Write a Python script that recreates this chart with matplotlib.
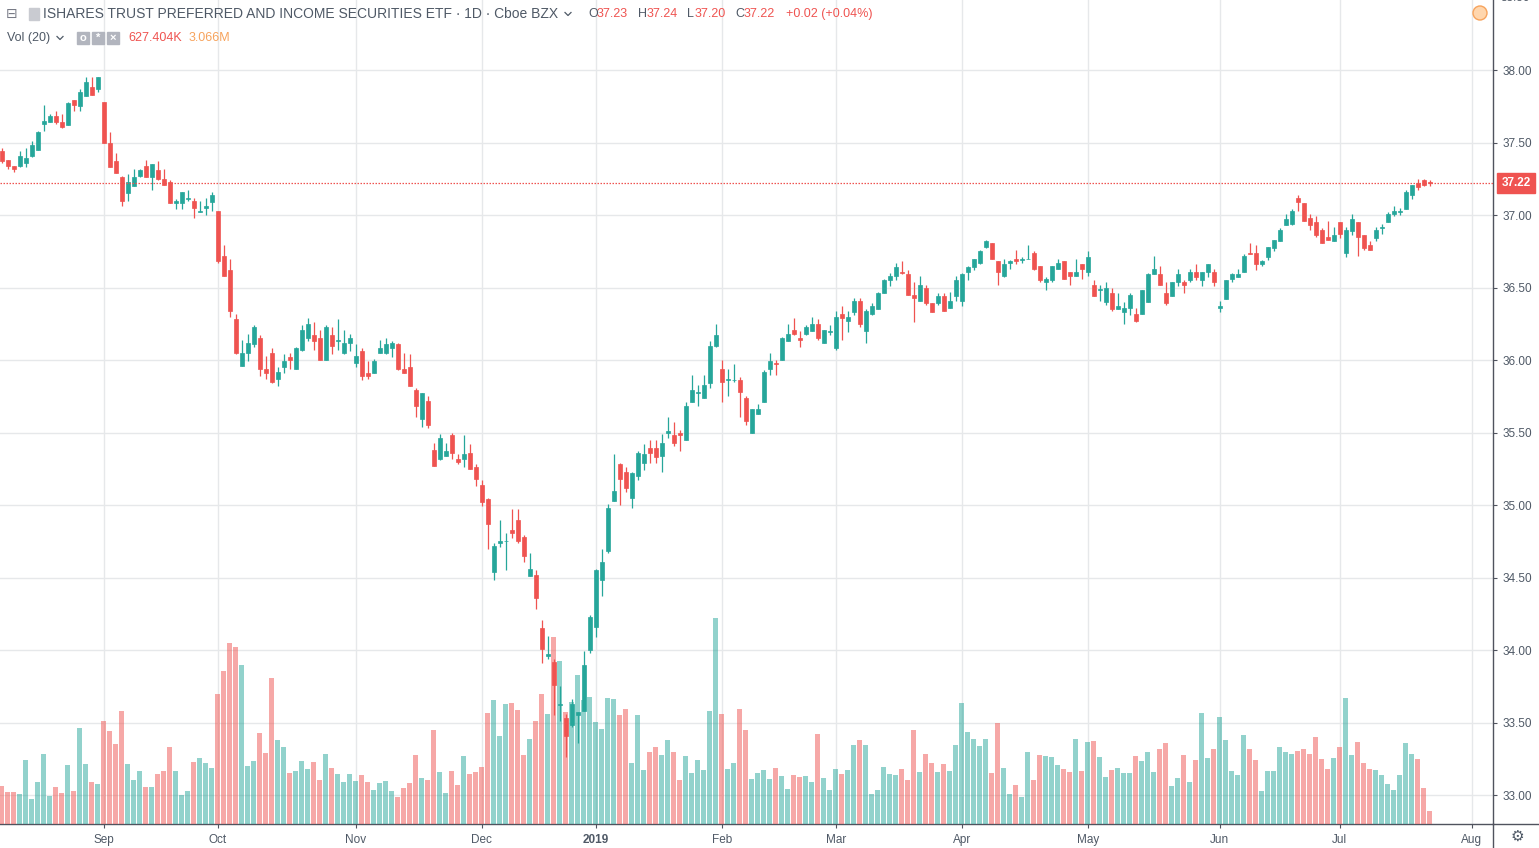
import numpy as np
import matplotlib
matplotlib.use('Agg')
import matplotlib.pyplot as plt
from matplotlib.patches import Rectangle, Ellipse
from matplotlib.lines import Line2D

plt.rcParams['font.family'] = ['Liberation Sans', 'DejaVu Sans']

W, H = 1539, 848

# daily bars, 2018-08-09 .. 2019-07-23 (index 0..238)
opens = [
    37.44, 37.38, 37.34, 37.34, 37.36, 37.41, 37.45, 37.63, 37.64, 37.68,
    37.64, 37.62, 37.79, 37.75, 37.82, 37.88, 37.87, 37.78, 37.50, 37.37,
    37.26, 37.15, 37.20, 37.27, 37.34, 37.26, 37.31, 37.25, 37.23, 37.08,
    37.08, 37.11, 37.10, 37.02, 37.05, 37.09, 37.03, 36.72, 36.62, 36.28,
    35.96, 36.05, 36.11, 36.15, 35.94, 36.05, 35.87, 35.95, 36.02, 35.94,
    36.07, 36.15, 36.17, 36.15, 36.00, 36.17, 36.13, 36.05, 36.12, 35.98,
    36.06, 35.91, 35.91, 36.05, 36.05, 36.08, 36.11, 35.94, 35.95, 35.79,
    35.59, 35.72, 35.38, 35.32, 35.34, 35.48, 35.32, 35.32, 35.36, 35.26,
    35.14, 35.04, 34.54, 34.74, 34.75, 34.83, 34.90, 34.78, 34.51, 34.52,
    34.15, 33.96, 33.92, 33.62, 33.53, 33.48, 33.55, 33.58, 34.00, 34.16,
    34.48, 34.68, 35.03, 35.28, 35.23, 35.05, 35.20, 35.29, 35.39, 35.39,
    35.34, 35.50, 35.48, 35.50, 35.45, 35.71, 35.77, 35.74, 35.84, 36.10,
    35.94, 35.86, 35.86, 35.86, 35.74, 35.50, 35.63, 35.71, 35.94, 35.98,
    36.00, 36.13, 36.21, 36.15, 36.18, 36.20, 36.25, 36.12, 36.19, 36.08,
    36.32, 36.27, 36.33, 36.41, 36.20, 36.32, 36.35, 36.46, 36.55, 36.58,
    36.61, 36.59, 36.45, 36.41, 36.50, 36.39, 36.39, 36.44, 36.36, 36.44,
    36.41, 36.61, 36.64, 36.67, 36.78, 36.81, 36.68, 36.58, 36.67, 36.70,
    36.69, 36.70, 36.74, 36.65, 36.54, 36.55, 36.63, 36.68, 36.61, 36.58,
    36.66, 36.61, 36.52, 36.48, 36.40, 36.46, 36.35, 36.33, 36.36, 36.32,
    36.32, 36.40, 36.59, 36.59, 36.46, 36.44, 36.54, 36.54, 36.55, 36.61,
    36.55, 36.61, 36.61, 36.36, 36.42, 36.56, 36.57, 36.61, 36.74, 36.74,
    36.66, 36.71, 36.77, 36.82, 36.93, 36.94, 37.12, 37.08, 36.98, 36.95,
    36.90, 36.85, 36.82, 36.95, 36.74, 36.89, 36.95, 36.86, 36.79, 36.84,
    36.91, 36.95, 37.01, 37.02, 37.04, 37.14, 37.22, 37.24, 37.23]

highs = [
    37.46, 37.38, 37.34, 37.44, 37.46, 37.51, 37.58, 37.76, 37.70, 37.72,
    37.70, 37.78, 37.79, 37.87, 37.95, 37.95, 37.95, 37.78, 37.57, 37.43,
    37.27, 37.28, 37.32, 37.32, 37.38, 37.35, 37.37, 37.32, 37.24, 37.11,
    37.16, 37.17, 37.12, 37.10, 37.12, 37.16, 37.03, 36.79, 36.70, 36.32,
    36.14, 36.18, 36.24, 36.17, 36.03, 36.08, 35.95, 36.04, 36.05, 36.09,
    36.24, 36.29, 36.26, 36.21, 36.24, 36.23, 36.28, 36.21, 36.18, 36.11,
    36.08, 35.99, 36.01, 36.14, 36.15, 36.13, 36.12, 36.05, 36.04, 35.81,
    35.77, 35.75, 35.43, 35.49, 35.43, 35.50, 35.35, 35.48, 35.42, 35.28,
    35.17, 35.05, 34.74, 34.90, 34.81, 34.97, 34.97, 34.79, 34.67, 34.55,
    34.21, 34.10, 33.94, 33.75, 33.56, 33.66, 33.57, 33.99, 34.24, 34.56,
    34.70, 35.01, 35.35, 35.29, 35.26, 35.23, 35.37, 35.42, 35.45, 35.45,
    35.49, 35.61, 35.57, 35.52, 35.71, 35.90, 35.83, 35.90, 36.13, 36.25,
    36.00, 35.94, 35.97, 35.88, 35.75, 35.66, 35.70, 35.93, 36.05, 36.00,
    36.16, 36.25, 36.29, 36.20, 36.24, 36.30, 36.28, 36.21, 36.24, 36.34,
    36.37, 36.34, 36.43, 36.43, 36.35, 36.39, 36.47, 36.56, 36.60, 36.67,
    36.68, 36.62, 36.54, 36.58, 36.52, 36.39, 36.46, 36.46, 36.47, 36.58,
    36.60, 36.65, 36.70, 36.76, 36.83, 36.81, 36.68, 36.70, 36.69, 36.76,
    36.71, 36.79, 36.75, 36.65, 36.57, 36.65, 36.70, 36.68, 36.61, 36.70,
    36.66, 36.75, 36.55, 36.52, 36.54, 36.50, 36.46, 36.40, 36.46, 36.36,
    36.48, 36.60, 36.72, 36.65, 36.54, 36.54, 36.63, 36.55, 36.63, 36.66,
    36.61, 36.66, 36.63, 36.41, 36.55, 36.60, 36.63, 36.73, 36.81, 36.79,
    36.69, 36.78, 36.83, 36.91, 37.01, 37.04, 37.14, 37.08, 37.01, 36.99,
    36.91, 36.96, 36.92, 36.95, 36.92, 37.01, 36.95, 36.86, 36.82, 36.92,
    36.94, 37.02, 37.06, 37.05, 37.17, 37.21, 37.25, 37.25, 37.24]

lows = [
    37.36, 37.32, 37.30, 37.33, 37.33, 37.40, 37.45, 37.58, 37.64, 37.63,
    37.60, 37.62, 37.72, 37.72, 37.82, 37.83, 37.85, 37.50, 37.33, 37.29,
    37.06, 37.10, 37.20, 37.26, 37.26, 37.17, 37.24, 37.21, 37.08, 37.04,
    37.04, 37.10, 36.98, 37.02, 37.00, 37.03, 36.67, 36.58, 36.30, 36.04,
    35.96, 35.99, 36.09, 35.89, 35.87, 35.84, 35.82, 35.91, 35.94, 35.94,
    36.06, 36.13, 36.07, 36.00, 36.00, 36.04, 36.07, 36.04, 36.06, 35.95,
    35.86, 35.87, 35.91, 36.05, 36.04, 36.02, 35.93, 35.91, 35.82, 35.61,
    35.54, 35.53, 35.27, 35.31, 35.34, 35.32, 35.28, 35.26, 35.25, 35.13,
    34.99, 34.70, 34.48, 34.71, 34.55, 34.77, 34.74, 34.61, 34.51, 34.28,
    33.91, 33.94, 33.55, 33.51, 33.26, 33.47, 33.36, 33.58, 33.98, 34.09,
    34.37, 34.67, 35.03, 35.00, 35.09, 34.98, 35.17, 35.24, 35.29, 35.29,
    35.23, 35.46, 35.41, 35.37, 35.45, 35.71, 35.68, 35.74, 35.81, 36.09,
    35.71, 35.75, 35.85, 35.61, 35.55, 35.50, 35.63, 35.71, 35.90, 35.90,
    36.00, 36.13, 36.17, 36.09, 36.17, 36.20, 36.14, 36.12, 36.17, 36.07,
    36.14, 36.19, 36.31, 36.23, 36.12, 36.31, 36.35, 36.46, 36.51, 36.55,
    36.59, 36.45, 36.26, 36.41, 36.38, 36.33, 36.38, 36.34, 36.36, 36.41,
    36.37, 36.55, 36.62, 36.66, 36.77, 36.70, 36.52, 36.57, 36.63, 36.66,
    36.67, 36.70, 36.62, 36.54, 36.48, 36.54, 36.63, 36.56, 36.52, 36.58,
    36.56, 36.58, 36.44, 36.41, 36.38, 36.34, 36.35, 36.25, 36.31, 36.26,
    36.32, 36.40, 36.59, 36.52, 36.38, 36.44, 36.51, 36.46, 36.54, 36.55,
    36.51, 36.57, 36.51, 36.33, 36.42, 36.54, 36.57, 36.61, 36.73, 36.62,
    36.65, 36.69, 36.75, 36.82, 36.93, 36.93, 37.03, 36.96, 36.90, 36.85,
    36.81, 36.83, 36.82, 36.84, 36.71, 36.86, 36.72, 36.76, 36.76, 36.82,
    36.87, 36.95, 36.99, 37.00, 37.04, 37.11, 37.17, 37.20, 37.20]

closes = [
    37.37, 37.34, 37.32, 37.41, 37.39, 37.48, 37.57, 37.65, 37.68, 37.64,
    37.61, 37.77, 37.76, 37.85, 37.92, 37.83, 37.95, 37.50, 37.33, 37.29,
    37.10, 37.23, 37.26, 37.31, 37.26, 37.35, 37.25, 37.21, 37.08, 37.10,
    37.16, 37.12, 37.05, 37.03, 37.06, 37.14, 36.68, 36.58, 36.34, 36.05,
    36.05, 36.12, 36.23, 35.94, 35.91, 35.85, 35.92, 35.99, 36.00, 36.08,
    36.21, 36.25, 36.13, 36.00, 36.23, 36.10, 36.14, 36.12, 36.15, 36.03,
    35.89, 35.89, 35.99, 36.08, 36.11, 36.12, 35.94, 35.91, 35.82, 35.68,
    35.77, 35.55, 35.27, 35.46, 35.37, 35.36, 35.30, 35.35, 35.25, 35.18,
    35.02, 34.87, 34.72, 34.75, 34.75, 34.81, 34.75, 34.65, 34.56, 34.36,
    34.01, 33.97, 33.76, 33.63, 33.41, 33.63, 33.57, 33.90, 34.23, 34.55,
    34.61, 34.98, 35.10, 35.18, 35.12, 35.22, 35.36, 35.35, 35.36, 35.33,
    35.43, 35.51, 35.43, 35.48, 35.68, 35.79, 35.78, 35.83, 36.10, 36.17,
    35.85, 35.87, 35.86, 35.78, 35.58, 35.66, 35.66, 35.92, 35.99, 35.97,
    36.15, 36.18, 36.18, 36.14, 36.23, 36.25, 36.15, 36.21, 36.20, 36.30,
    36.29, 36.30, 36.41, 36.25, 36.34, 36.37, 36.46, 36.55, 36.58, 36.64,
    36.60, 36.45, 36.43, 36.52, 36.39, 36.33, 36.44, 36.34, 36.41, 36.55,
    36.59, 36.64, 36.70, 36.75, 36.82, 36.70, 36.61, 36.66, 36.68, 36.68,
    36.70, 36.70, 36.63, 36.55, 36.56, 36.65, 36.67, 36.56, 36.58, 36.61,
    36.63, 36.71, 36.44, 36.49, 36.50, 36.35, 36.37, 36.36, 36.45, 36.27,
    36.48, 36.59, 36.63, 36.52, 36.39, 36.54, 36.59, 36.52, 36.61, 36.57,
    36.61, 36.66, 36.54, 36.37, 36.55, 36.59, 36.59, 36.72, 36.73, 36.66,
    36.68, 36.78, 36.83, 36.90, 36.97, 37.03, 37.09, 36.96, 36.93, 36.86,
    36.81, 36.83, 36.86, 36.87, 36.90, 36.97, 36.85, 36.77, 36.76, 36.90,
    36.92, 37.01, 37.03, 37.03, 37.16, 37.21, 37.19, 37.21, 37.22]

# volume, millions of shares
volumes = [
    1.92, 1.60, 1.60, 1.50, 3.20, 1.25, 2.10, 3.50, 1.40, 1.85,
    1.55, 2.97, 1.65, 4.80, 3.00, 2.10, 2.00, 5.17, 4.67, 4.00,
    5.65, 3.00, 2.20, 2.65, 1.85, 1.85, 2.50, 2.65, 3.87, 2.65,
    1.45, 1.65, 3.10, 3.30, 3.05, 2.80, 6.50, 7.65, 9.05, 8.85,
    7.95, 2.90, 3.15, 4.55, 3.55, 7.30, 4.20, 3.85, 2.55, 2.65,
    3.15, 2.75, 3.10, 2.20, 3.50, 2.80, 2.50, 2.10, 2.50, 2.15,
    2.45, 2.10, 1.70, 2.05, 2.15, 1.65, 1.35, 1.80, 2.05, 3.45,
    2.30, 2.20, 4.70, 2.60, 1.55, 2.65, 1.95, 3.40, 2.50, 2.60,
    2.85, 5.55, 6.20, 4.40, 6.00, 6.05, 5.70, 3.45, 4.25, 5.15,
    6.50, 5.50, 9.35, 8.15, 5.60, 6.10, 7.45, 6.20, 6.35, 5.10,
    4.75, 6.30, 6.25, 5.45, 5.75, 3.05, 5.45, 2.70, 3.60, 3.85,
    3.45, 4.20, 3.60, 2.20, 3.40, 2.55, 3.20, 2.70, 5.65, 10.30,
    5.50, 2.75, 3.05, 5.75, 4.70, 2.25, 2.55, 2.70, 2.25, 2.80,
    2.40, 1.75, 2.45, 2.35, 2.40, 2.10, 4.50, 2.30, 1.70, 2.75,
    2.50, 2.70, 3.95, 4.20, 3.95, 1.50, 1.70, 2.85, 2.50, 2.45,
    2.75, 2.20, 4.70, 2.60, 3.50, 3.05, 2.60, 3.00, 2.65, 3.95,
    6.05, 4.60, 4.25, 3.90, 4.25, 2.55, 5.05, 2.80, 1.50, 1.95,
    1.35, 3.60, 2.20, 3.45, 3.40, 3.35, 2.95, 2.75, 2.60, 4.25,
    2.65, 4.10, 4.15, 3.35, 2.35, 2.70, 2.80, 2.55, 2.55, 3.40,
    3.15, 3.60, 2.60, 3.75, 4.05, 1.90, 2.30, 3.45, 2.10, 3.20,
    5.55, 3.30, 3.75, 5.35, 4.20, 2.65, 2.45, 4.45, 3.75, 3.20,
    1.65, 2.65, 2.65, 3.85, 3.60, 3.50, 3.65, 3.75, 3.50, 4.35,
    3.25, 2.75, 3.30, 3.85, 6.30, 3.45, 4.10, 3.05, 2.75, 2.70,
    2.45, 2.00, 1.70, 2.45, 4.05, 3.50, 3.25, 1.80, 0.627]

month_labels = ['Sep', 'Oct', 'Nov', 'Dec', '2019', 'Feb', 'Mar', 'Apr', 'May', 'Jun', 'Jul', 'Aug']
month_sessions = [17, 19, 23, 21, 19, 21, 19, 21, 21, 22, 20, 22]   # sessions before each label
price_ticks = [33.0, 33.5, 34.0, 34.5, 35.0, 35.5, 36.0, 36.5, 37.0, 37.5, 38.0]

UP = '#26a69a'
DOWN = '#ef5350'
TXT = '#4f5966'
LINE = '#50535e'

o = np.array(opens); c = np.array(closes)
x = np.arange(len(c))
cols = np.where(c >= o, UP, DOWN)

fig = plt.figure(figsize=(W / 100, H / 100), dpi=100)
rect = [0, 24 / H, 1493 / W, 824 / H]
ax = fig.add_axes(rect)
ax_vol = fig.add_axes(rect, sharex=ax)
ax_c = fig.add_axes(rect, sharex=ax, sharey=ax)
for a in (ax_vol, ax_c):
    a.set_facecolor('none')
    a.axis('off')

ax.set_xlim(-0.28, 248.55)
ax.set_ylim(32.8, 38.483)

# grid / axes
ticks_x = np.cumsum(month_sessions)
ax.set_xticks(ticks_x)
ax.set_xticklabels(month_labels)
ax.set_yticks(price_ticks)
ax.set_yticklabels([f'{p:.2f}' for p in price_ticks])
ax.yaxis.tick_right()
ax.grid(True, color='#e6e8ea', linewidth=1)
ax.set_axisbelow(True)
ax.tick_params(axis='y', length=3, pad=4, labelsize=8.5, labelcolor=TXT, color=LINE)
ax.tick_params(axis='x', length=3, pad=4, labelsize=8.5, labelcolor=TXT, color=LINE)
for lab in ax.get_xticklabels():
    if lab.get_text() == '2019':
        lab.set_fontweight('bold')
for s in ('top', 'left'):
    ax.spines[s].set_visible(False)
for s in ('right', 'bottom'):
    ax.spines[s].set_color(LINE)
    ax.spines[s].set_linewidth(1)

# volume
ax_vol.bar(x, volumes, width=0.8, color=cols, alpha=0.5, linewidth=0)
ax_vol.set_ylim(0, 41.2)

# candles
ax_c.vlines(x, lows, highs, colors=cols, linewidth=0.9)
ax_c.bar(x, c - o, bottom=o, width=0.72, color=cols, edgecolor=cols, linewidth=0.5)
ax_c.axhline(c[-1], color=DOWN, linestyle=(0, (1.2, 1.2)), linewidth=0.9)

# last price box
ax.annotate(f'{c[-1]:.2f}', xy=(1, c[-1]), xycoords=('axes fraction', 'data'),
            xytext=(16.5, 0), textcoords='offset points', ha='center', va='center',
            color='white', fontsize=8.5, fontweight='bold', annotation_clip=False,
            bbox=dict(boxstyle='square,pad=0.35', fc=DOWN, ec=DOWN))
ax.annotate('38.50', xy=(1, 38.5), xycoords=('axes fraction', 'data'),
            xytext=(5.2, 0), textcoords='offset points', ha='left', va='center',
            color=TXT, fontsize=8.5, annotation_clip=False)


def fx(px):
    return px / W


def fy(py):
    return 1 - py / H


def chevron(px, py):
    fig.add_artist(Line2D([fx(px - 3), fx(px), fx(px + 3)], [fy(py - 1.5), fy(py + 1.5), fy(py - 1.5)],
                          color=TXT, linewidth=0.9))


# header
fig.text(fx(6), fy(14), '\u229f', fontsize=10, color='#787b86', va='center', ha='left', family='DejaVu Sans')
fig.add_artist(Rectangle((fx(29), fy(20)), 10 / W, 12 / H, color='#c9cbd1', transform=fig.transFigure))
fig.text(fx(43), fy(14), 'ISHARES TRUST PREFERRED AND INCOME SECURITIES ETF \u00b7 1D \u00b7 Cboe BZX',
         fontsize=10, color=TXT, va='center', ha='left')
chevron(568, 14)
parts = [(588, 'O', TXT), (597, '37.23', DOWN), (638, 'H', TXT), (647, '37.24', DOWN),
         (687, 'L', TXT), (695, '37.20', DOWN), (735, 'C', TXT), (744, '37.22', DOWN),
         (786, '+0.02 (+0.04%)', DOWN)]
for px, t, col in parts:
    fig.text(fx(px), fy(14), t, fontsize=9, color=col, va='center', ha='left')

fig.text(fx(7), fy(38), 'Vol (20)', fontsize=9, color=TXT, va='center', ha='left')
chevron(60, 38)
for px, sym in [(77, 'o'), (92, '*'), (107, '\u00d7')]:
    fig.add_artist(Rectangle((fx(px), fy(44)), 12 / W, 12 / H, color='#b2b5be', transform=fig.transFigure))
    fig.text(fx(px + 6), fy(38), sym, fontsize=8, color='white', va='center', ha='center', fontweight='bold')
fig.text(fx(128), fy(38), '627.404K', fontsize=9, color=DOWN, va='center', ha='left')
fig.text(fx(189), fy(38), '3.066M', fontsize=9, color='#f7a35c', va='center', ha='left')

# top-right badge and bottom-right gear
fig.add_artist(Ellipse((fx(1480), fy(13)), 14 / W, 14 / H, fc='#ffd6ad', ec='#f7a35c', lw=1,
                       transform=fig.transFigure))
fig.add_artist(Line2D([fx(1493), fx(W)], [fy(824), fy(824)], color=LINE, linewidth=1))
fig.add_artist(Line2D([fx(1493), fx(1493)], [fy(824), fy(H)], color=LINE, linewidth=1))
fig.text(fx(1517), fy(836), '\u2699', fontsize=11, color=TXT, va='center', ha='center', family='DejaVu Sans')

fig.savefig('out.png', dpi=100)
